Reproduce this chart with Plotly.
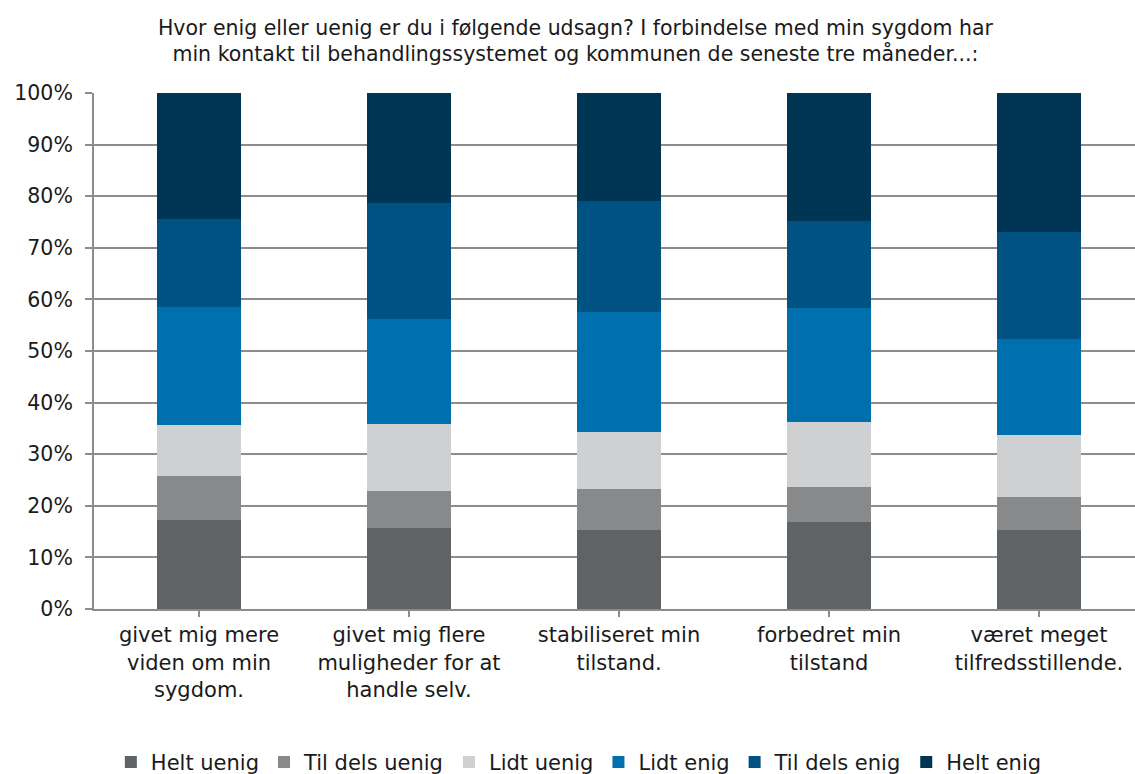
import plotly.graph_objects as go

categories = [
    "givet mig mere<br>viden om min<br>sygdom.",
    "givet mig flere<br>muligheder for at<br>handle selv.",
    "stabiliseret min<br>tilstand.",
    "forbedret min<br>tilstand",
    "været meget<br>tilfredsstillende.",
]

series_names = ["Helt uenig", "Til dels uenig", "Lidt uenig", "Lidt enig", "Til dels enig", "Helt enig"]

helt_uenig = [17.2, 15.7, 15.3, 16.8, 15.3]
til_dels_uenig = [8.5, 7.1, 7.9, 6.9, 6.4]
lidt_uenig = [10.0, 13.0, 11.1, 12.6, 12.1]
lidt_enig = [22.9, 20.4, 23.3, 22.0, 18.5]
til_dels_enig = [16.9, 22.4, 21.4, 16.9, 20.8]
helt_enig = [24.5, 21.4, 21.0, 24.8, 26.9]

series_values = [helt_uenig, til_dels_uenig, lidt_uenig, lidt_enig, til_dels_enig, helt_enig]
colors = ["#5f6366", "#87898b", "#cfd0d2", "#006fae", "#005283", "#003654"]

y_ticks = [0, 10, 20, 30, 40, 50, 60, 70, 80, 90, 100]
y_labels = [f"{v}%" for v in y_ticks]

FONT = "DejaVu Sans"
TEXT = "#1a1a1a"
GRID = "#8c8c8c"

fig = go.Figure()
for name, vals, col in zip(series_names, series_values, colors):
    fig.add_trace(go.Bar(
        x=list(range(len(categories))),
        y=vals,
        name=name,
        marker=dict(color=col, line=dict(width=0)),
        width=0.4,
    ))

fig.update_layout(
    barmode="stack",
    width=1135,
    height=774,
    margin=dict(l=94, r=0, t=93, b=165, autoexpand=False),
    paper_bgcolor="white",
    plot_bgcolor="white",
    font=dict(family=FONT, color=TEXT, size=20),
    title=dict(
        text="Hvor enig eller uenig er du i følgende udsagn? I forbindelse med min sygdom har<br>"
             "min kontakt til behandlingssystemet og kommunen de seneste tre måneder...:",
        x=0.507, xanchor="center", xref="container",
        y=0.955, yanchor="middle", yref="container",
        font=dict(family=FONT, size=20.5, color=TEXT),
    ),
    xaxis=dict(
        range=[-0.5, 4.457],
        tickmode="array",
        tickvals=list(range(len(categories))),
        ticktext=categories,
        tickson="boundaries",
        ticks="outside",
        ticklen=6,
        tickwidth=2,
        tickcolor=GRID,
        showline=True,
        linecolor=GRID,
        linewidth=2,
        showgrid=False,
        tickfont=dict(family=FONT, size=21, color=TEXT),
        fixedrange=True,
    ),
    yaxis=dict(
        range=[0, 100],
        tickmode="array",
        tickvals=y_ticks,
        ticktext=y_labels,
        ticks="outside",
        ticklen=7,
        tickwidth=2,
        tickcolor=GRID,
        ticklabelstandoff=8,
        showline=True,
        linecolor=GRID,
        linewidth=2,
        showgrid=True,
        gridcolor=GRID,
        gridwidth=2,
        zeroline=False,
        tickfont=dict(family=FONT, size=20.5, color=TEXT),
        fixedrange=True,
    ),
    legend=dict(
        orientation="h",
        x=0.51, xanchor="center", xref="container",
        y=0.015, yanchor="middle", yref="container",
        font=dict(family=FONT, size=21, color=TEXT),
        traceorder="normal",
        itemwidth=30,
    ),
)

fig.write_html("out.html")
